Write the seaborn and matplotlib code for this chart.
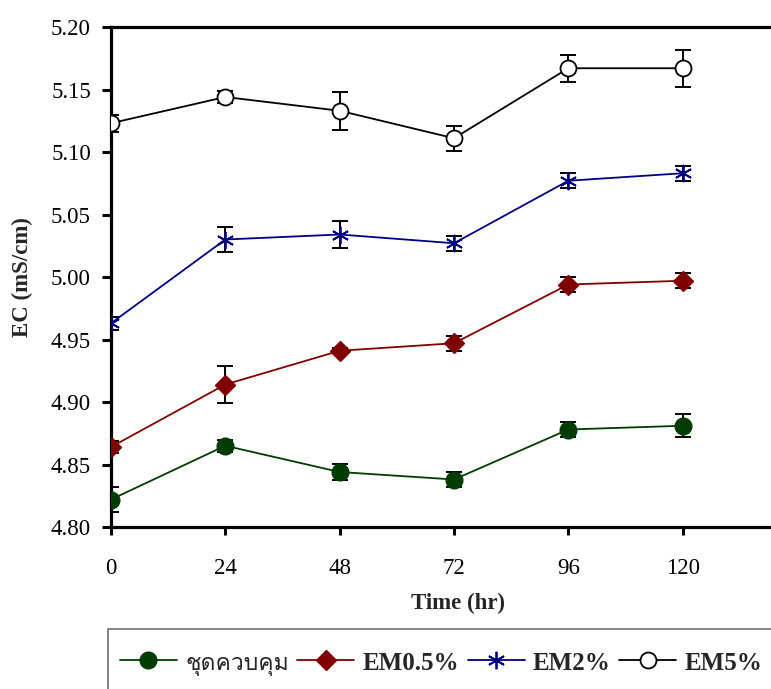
import numpy as np
import pandas as pd
import matplotlib
matplotlib.use("Agg")
import matplotlib.pyplot as plt
import matplotlib.font_manager as fm
from matplotlib.patches import Rectangle
import seaborn as sns

# ---------------- data ----------------
time_hr = [0, 24, 48, 72, 96, 120]
x_ticks = [0, 24, 48, 72, 96, 120]
y_ticks = [4.80, 4.85, 4.90, 4.95, 5.00, 5.05, 5.10, 5.15, 5.20]
series_names = ["ชุดควบคุม", "EM0.5%", "EM2%", "EM5%"]
control_mean = [4.822, 4.865, 4.844, 4.838, 4.878, 4.881]
control_err = [0.010, 0.005, 0.006, 0.006, 0.006, 0.009]
em05_mean = [4.864, 4.914, 4.941, 4.947, 4.994, 4.997]
em05_err = [0.005, 0.015, 0.002, 0.006, 0.006, 0.006]
em2_mean = [4.963, 5.030, 5.034, 5.027, 5.077, 5.083]
em2_err = [0.005, 0.010, 0.011, 0.006, 0.006, 0.006]
em5_mean = [5.123, 5.144, 5.133, 5.111, 5.167, 5.167]
em5_err = [0.007, 0.005, 0.015, 0.010, 0.011, 0.015]

means = [control_mean, em05_mean, em2_mean, em5_mean]
errs = [control_err, em05_err, em2_err, em5_err]

rows = []
for name, m, e in zip(series_names, means, errs):
    for t, v, s in zip(time_hr, m, e):
        rows.append({"time": t, "ec": v, "err": s, "series": name})
df = pd.DataFrame(rows)

# ---------------- fonts ----------------
sns.set_style("white")
names = {f.name for f in fm.fontManager.ttflist}


def family_with(ch):
    try:
        from fontTools.ttLib import TTFont
    except Exception:
        return None
    for f in fm.fontManager.ttflist:
        try:
            tt = TTFont(f.fname, fontNumber=0, lazy=True)
            cmap = tt.getBestCmap()
            if cmap and ord(ch) in cmap:
                return f.name
        except Exception:
            continue
    return None


thai_family = family_with("ช")
serif = "Liberation Serif" if "Liberation Serif" in names else "DejaVu Serif"

plt.rcParams["font.family"] = [serif, "DejaVu Sans"]

# ---------------- styles ----------------
styles = {
    "ชุดควบคุม": dict(color="#003c00", marker="o", ms=12, mfc="#003c00", mec="#003c00", mew=1.0),
    "EM0.5%": dict(color="#800000", marker="D", ms=10, mfc="#800000", mec="#800000", mew=1.0),
    "EM2%": dict(color="#000080", marker=(6, 2, 0), ms=12.5, mfc="#000080", mec="#000080", mew=1.3),
    "EM5%": dict(color="#000000", marker="o", ms=11.5, mfc="white", mec="black", mew=1.3),
}

W, H = 771, 689
fig = plt.figure(figsize=(W / 100, H / 100), dpi=100)
ax = fig.add_axes([111 / W, 1 - 527 / H, 686 / W, 500 / H])

for name in series_names:
    sub = df[df["series"] == name]
    st = styles[name]
    ax.errorbar(sub["time"], sub["ec"], yerr=sub["err"], fmt="none", ecolor="black",
                elinewidth=1.4, capsize=6, capthick=1.4, zorder=2)
    sns.lineplot(data=sub, x="time", y="ec", ax=ax, color=st["color"], linewidth=1.3,
                 marker=st["marker"], markersize=st["ms"], markerfacecolor=st["mfc"],
                 markeredgecolor=st["mec"], markeredgewidth=st["mew"], label=name,
                 zorder=3, errorbar=None)

ax.set_xlim(0, 144)
ax.set_ylim(4.80, 5.20)
ax.set_xticks(x_ticks)
ax.set_xticklabels([str(t) for t in x_ticks])
ax.set_yticks(y_ticks)
ax.set_yticklabels([f"{v:.2f}" for v in y_ticks])
for s in ["left", "top", "bottom", "right"]:
    ax.spines[s].set_linewidth(2.3)
    ax.spines[s].set_color("black")
ax.tick_params(axis="y", direction="out", length=6.5, width=2.2, pad=8, labelsize=16.5,
               left=True, colors="black")
ax.tick_params(axis="x", direction="out", length=6, width=2.2, pad=16, labelsize=16.5,
               bottom=True, colors="black")
for lab in ax.get_xticklabels() + ax.get_yticklabels():
    lab.set_family(serif)

ax.set_xlabel("Time (hr)", fontsize=16.5, fontweight="bold", family=serif)
ax.set_ylabel("EC (mS/cm)", fontsize=16.5, fontweight="bold", family=serif)
ax.xaxis.set_label_coords((458 - 111) / 686, -(593 - 527) / 500)
ax.yaxis.set_label_coords(-(111 - 33) / 686, 0.5)

# ---------------- legend ----------------
handles, labels = ax.get_legend_handles_labels()
if ax.get_legend():
    ax.get_legend().remove()
# legend frame (extends past the right and bottom edges, as in the reference)
fig.patches.append(Rectangle((108 / W, -0.05), 0.9, (1 - 629 / H) + 0.05,
                             transform=fig.transFigure, fill=False,
                             edgecolor="#7a7a7a", linewidth=1.3))
leg = fig.legend(handles, labels, loc="center left", bbox_to_anchor=(120 / W, 1 - 663 / H),
                 bbox_transform=fig.transFigure, ncol=4, fontsize=20, frameon=False,
                 borderaxespad=0, borderpad=0, handlelength=2.05,
                 handletextpad=0.3, columnspacing=0.3)
for txt in leg.get_texts():
    if txt.get_text() == "ชุดควบคุม":
        fams = [thai_family] if thai_family else []
        txt.set_family(fams + [serif, "DejaVu Sans"])
        txt.set_fontsize(16.5)
    else:
        txt.set_family([serif])
        txt.set_fontweight("bold")
        txt.set_fontsize(18)

fig.savefig("out.png", dpi=100)
